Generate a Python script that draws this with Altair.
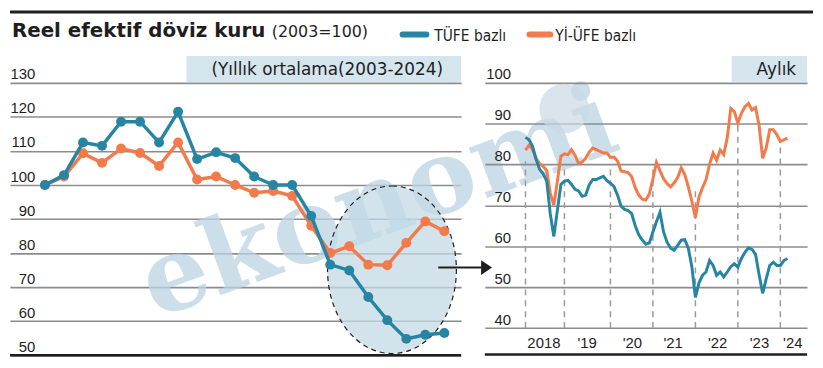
import altair as alt
import pandas as pd

# ---------------- data ----------------
years = list(range(2003, 2025))
tufe_annual = [100, 102.9, 112.5, 111.5, 118.6, 118.6, 112.5, 121.5, 107.6, 109.6, 107.9,
               102.5, 100, 100, 90.9, 76.6, 74.9, 67.1, 60.3, 54.8, 56.0, 56.5]
yiufe_annual = [100, 102.5, 109.3, 106.5, 110.7, 109.4, 105.6, 112.5, 101.6, 102.5, 100,
                97.7, 98.2, 96.8, 88.0, 80.0, 82.0, 76.6, 76.4, 83.0, 89.3, 86.4]

# monthly series, month index 0 = Jan 2018 ... 74 = Mar 2024
month_index = list(range(75))
tufe_monthly = [86.6, 86.0, 84.4, 81.2, 78.8, 77.7, 75.9, 67.9, 62.4, 68.7, 75.1, 75.9,
                76.1, 75.1, 73.9, 73.5, 72.2, 72.5, 75.0, 76.3, 76.3, 76.7, 77.1, 76.0,
                75.4, 74.6, 72.5, 69.8, 69.0, 68.7, 68.0, 65.0, 62.8, 61.5, 60.5, 60.8,
                63.5, 66.0, 68.3, 63.5, 61.0, 59.5, 59.0, 60.2, 61.5, 61.6, 59.5, 55.0,
                47.5, 51.0, 52.9, 53.7, 56.5, 55.3, 52.9, 53.7, 52.5, 53.7, 55.0, 55.7,
                54.9, 57.0, 58.5, 59.6, 59.2, 58.0, 53.0, 48.5, 52.0, 55.3, 56.1, 55.3,
                55.3, 56.5, 57.0]
yiufe_monthly = [83.5, 84.7, 83.6, 81.5, 80.2, 79.5, 78.5, 73.0, 70.0, 75.9, 82.0, 82.6,
                 82.4, 83.6, 82.2, 80.2, 80.6, 81.5, 83.0, 84.0, 83.6, 83.2, 82.8, 82.8,
                 81.7, 81.8, 80.8, 78.4, 78.2, 78.0, 77.0, 74.3, 72.5, 71.5, 71.3, 72.8,
                 76.5, 80.5, 78.5, 76.5, 75.3, 74.5, 75.5, 76.8, 79.2, 77.5, 74.5, 71.0,
                 67.0, 72.0, 74.3, 76.3, 80.0, 82.8, 81.0, 83.5, 82.4, 86.5, 93.7, 92.9,
                 90.1, 92.5, 94.1, 94.9, 93.3, 93.9, 89.5, 81.5, 84.0, 88.5, 88.5, 87.3,
                 85.6, 86.0, 86.4]

year_start_months = [0, 11, 24, 36, 48, 60, 72]
year_start_tops = [80.8, 79.1, 79.1, 79.6, 74.7, 90.0, 85.6]
month_label_pos = [5.2, 17.4, 30.2, 41.7, 54.3, 66.1, 75.5]
month_labels = ["2018", "'19", "'20", "'21", "'22", "'23", "'24"]

left_ticks = [50, 60, 70, 80, 90, 100, 110, 120, 130]
right_ticks = [40, 50, 60, 70, 80, 90, 100]

title_text = "Reel efektif döviz kuru"
subtitle_text = "(2003=100)"
legend_names = ["TÜFE bazlı", "Yİ-ÜFE bazlı"]
left_box_text = "(Yıllık ortalama(2003-2024)"
right_box_text = "Aylık"

# ---------------- style ----------------
FONT = "Liberation Sans"
HFONT = "DejaVu Sans"
NARROW = "DejaVu Sans Condensed, Liberation Sans"
TEAL = "#2785a4"
ORANGE = "#f37a4a"
GRID = "#8c8c8c"
INK = "#1e1e1e"
BOX = "#d5e5ee"
W_L, W_R, H = 455, 325, 302
HEAD_W, HEAD_H = 810, 46

one = pd.DataFrame({"k": [0]})

# ---------------- header ----------------
hb = alt.Chart(one)
header = alt.layer(
    hb.mark_rule(color=INK, strokeWidth=3).encode(x=alt.value(0), x2=alt.value(HEAD_W), y=alt.value(1.5)),
    hb.mark_text(text=title_text, font=HFONT, fontWeight="bold", fontSize=20, align="left",
                 baseline="alphabetic", color=INK).encode(x=alt.value(2), y=alt.value(27)),
    hb.mark_text(text=subtitle_text, font=HFONT, fontSize=16, align="left",
                 baseline="alphabetic", color=INK).encode(x=alt.value(264), y=alt.value(27)),
    hb.mark_rule(color=TEAL, strokeWidth=6, strokeCap="round").encode(
        x=alt.value(396), x2=alt.value(420), y=alt.value(24.3)),
    hb.mark_text(text=legend_names[0], font=NARROW, fontSize=15.5, align="left",
                 baseline="alphabetic", color=INK).encode(x=alt.value(428), y=alt.value(30.7)),
    hb.mark_rule(color=ORANGE, strokeWidth=6, strokeCap="round").encode(
        x=alt.value(524), x2=alt.value(545), y=alt.value(24.3)),
    hb.mark_text(text=legend_names[1], font=NARROW, fontSize=15.5, align="left",
                 baseline="alphabetic", color=INK).encode(x=alt.value(550), y=alt.value(30.7)),
).properties(width=HEAD_W, height=HEAD_H)

# ---------------- left panel (annual) ----------------
left_y_scale = alt.Scale(domain=[49.91, 137.86], nice=False, zero=False)
left_x_scale = alt.Scale(domain=[2001.16, 2024.88], nice=False, zero=False)
axis_l = alt.Axis(values=left_ticks, grid=True, gridColor=GRID, gridWidth=1.6, domain=False,
                  ticks=False, tickSize=0, labelAlign="right", labelBaseline="alphabetic",
                  labelPadding=-25, labelOffset=-4, labelFont=FONT, labelFontSize=15,
                  labelColor=INK, title=None)
YL = alt.Y("value:Q", scale=left_y_scale, axis=axis_l)
XL = alt.X("year:Q", scale=left_x_scale, axis=None)

df_tufe_a = pd.DataFrame({"year": years, "value": tufe_annual})
df_yiufe_a = pd.DataFrame({"year": years, "value": yiufe_annual})
df_base_l = pd.DataFrame({"value": [left_ticks[0]]})

a = 0.769
k = 0.5523
ellipse_path = (f"M 0 -1 C {k*a:.4f} -1 {a} -{k} {a} 0 C {a} {k} {k*a:.4f} 1 0 1 "
                f"C -{k*a:.4f} 1 -{a} {k} -{a} 0 C -{a} -{k} -{k*a:.4f} -1 0 -1 Z")
arrow_path = "M -0.73 -1 L 0.73 0 L -0.73 1 Z"

lb = alt.Chart(one)
left = alt.layer(
    lb.mark_text(text="ekonomi", font="DejaVu Serif", fontWeight="bold", fontSize=104,
                 angle=340, align="center", baseline="middle", color="#bcd4e3",
                 opacity=0.75).encode(x=alt.value(372), y=alt.value(150)),
    lb.mark_rect(color=BOX).encode(x=alt.value(178), x2=alt.value(W_L), y=alt.value(0), y2=alt.value(26)),
    lb.mark_text(text=left_box_text, font=HFONT, fontSize=17, align="center",
                 baseline="alphabetic", color=INK).encode(x=alt.value(320), y=alt.value(19)),
    lb.mark_point(shape=ellipse_path, size=28561, filled=True, fill="#c3d9e6", fillOpacity=0.75,
                  stroke=INK, strokeWidth=1.2, strokeDash=[5, 4], opacity=1).encode(
        x=alt.value(385.3), y=alt.value(215.5)),
    lb.mark_rule(color=INK, strokeWidth=2).encode(x=alt.value(432), x2=alt.value(477), y=alt.value(213.3)),
    lb.mark_point(shape=arrow_path, size=225, filled=True, color=INK, opacity=1).encode(
        x=alt.value(480.7), y=alt.value(213.3)),
    alt.Chart(df_base_l).mark_rule(color=INK, strokeWidth=2.5).encode(y=YL),
    alt.Chart(df_yiufe_a).mark_line(color=ORANGE, strokeWidth=3.5,
                                    point=alt.OverlayMarkDef(filled=True, size=100, color=ORANGE, opacity=1)
                                    ).encode(x=XL, y=YL),
    alt.Chart(df_tufe_a).mark_line(color=TEAL, strokeWidth=3.5,
                                   point=alt.OverlayMarkDef(filled=True, size=100, color=TEAL, opacity=1)
                                   ).encode(x=XL, y=YL),
).properties(width=W_L, height=H)

# ---------------- right panel (monthly) ----------------
right_y_scale = alt.Scale(domain=[33.29, 106.47], nice=False, zero=False)
right_x_scale = alt.Scale(domain=[-11.48, 79.55], nice=False, zero=False)
axis_r = alt.Axis(values=right_ticks, grid=True, gridColor=GRID, gridWidth=1.6, domain=False,
                  ticks=False, tickSize=0, labelAlign="right", labelBaseline="alphabetic",
                  labelPadding=-26, labelOffset=-4, labelFont=FONT, labelFontSize=15,
                  labelColor=INK, title=None)
YR = alt.Y("value:Q", scale=right_y_scale, axis=axis_r)
XR = alt.X("m:Q", scale=right_x_scale, axis=None)

df_tufe_m = pd.DataFrame({"m": month_index, "value": tufe_monthly})
df_yiufe_m = pd.DataFrame({"m": month_index, "value": yiufe_monthly})
df_dash = pd.DataFrame({"m": year_start_months, "value": [right_ticks[0]] * len(year_start_months),
                        "top": year_start_tops})
df_lab = pd.DataFrame({"m": month_label_pos, "label": month_labels})

rb = alt.Chart(one)
right = alt.layer(
    rb.mark_point(shape="circle", filled=True, color="#c9d9e4", size=2500, opacity=0.7).encode(
        x=alt.value(80), y=alt.value(53)),
    rb.mark_rect(color=BOX).encode(x=alt.value(249), x2=alt.value(W_R), y=alt.value(0), y2=alt.value(25.8)),
    rb.mark_text(text=right_box_text, font=HFONT, fontSize=17, align="center",
                 baseline="alphabetic", color=INK).encode(x=alt.value(294), y=alt.value(19.3)),
    alt.Chart(df_dash).mark_rule(color="#9a9a9a", strokeWidth=1.5, strokeDash=[6, 5]).encode(
        x=XR, y=YR, y2="top:Q"),
    rb.mark_rule(color=INK, strokeWidth=2.5).encode(x=alt.value(0), x2=alt.value(W_R), y=alt.value(301)),
    alt.Chart(df_lab).mark_text(font=FONT, fontSize=15, align="center", baseline="alphabetic",
                                color=INK).encode(x=XR, y=alt.value(294), text="label:N"),
    alt.Chart(df_yiufe_m).mark_line(color=ORANGE, strokeWidth=3).encode(x=XR, y=YR),
    alt.Chart(df_tufe_m).mark_line(color=TEAL, strokeWidth=3).encode(x=XR, y=YR),
).properties(width=W_R, height=H)

row = alt.hconcat(left, right, spacing=24, bounds="flush")
chart = alt.vconcat(header, row, spacing=0, bounds="flush").configure_view(
    stroke="transparent").properties(padding=0)

chart.save("out.html", embed_options={"renderer": "svg", "actions": False})
